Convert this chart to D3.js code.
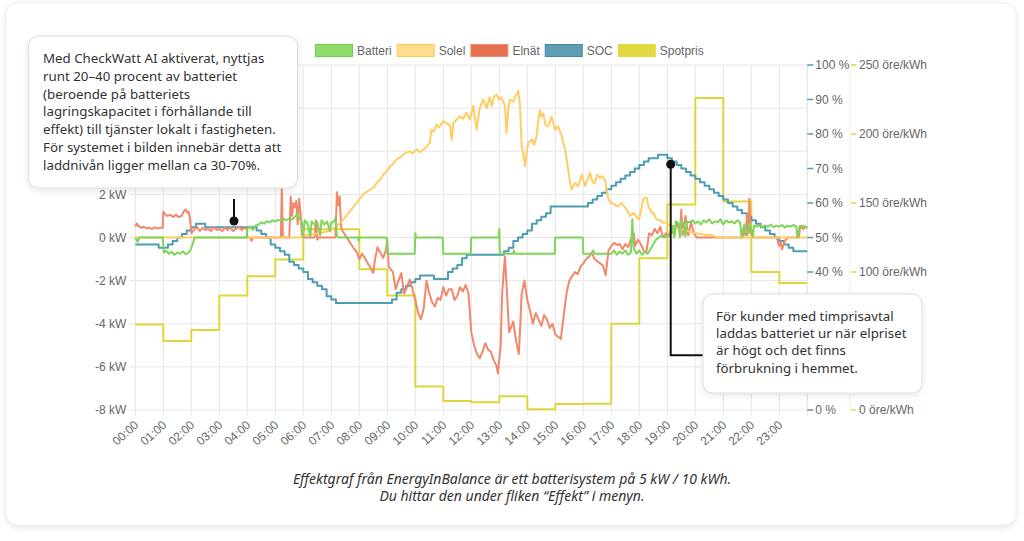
<!DOCTYPE html>
<html>
<head>
<meta charset="utf-8">
<script src="https://cdn.jsdelivr.net/npm/d3@7"></script>
<style>
  html, body { margin: 0; padding: 0; background: #fff; }
  svg { display: block; }
</style>
</head>
<body>
<div id="chart"></div>
<script>
'use strict';

// Tick labels and series
const hourLabels = ["00:00","01:00","02:00","03:00","04:00","05:00","06:00","07:00","08:00","09:00","10:00","11:00",
  "12:00","13:00","14:00","15:00","16:00","17:00","18:00","19:00","20:00","21:00","22:00","23:00"];
const kwTicks = [-8, -6, -4, -2, 0, 2, 4, 6, 8];
const socTicks = [0, 10, 20, 30, 40, 50, 60, 70, 80, 90, 100];
const spotTicks = [0, 50, 100, 150, 200, 250];
// labels left visible next to the note boxes
const kwLabelTicks = [-8, -6, -4, -2, 0, 2];
const socLabelTicks = [0, 40, 50, 60, 70, 80, 90, 100];
const spotLabelTicks = [0, 100, 150, 200, 250];
const legendNames = ["Batteri", "Solel", "Elnät", "SOC", "Spotpris"];

// Spotpris, öre/kWh, one value per hour
const spotPrices = [62, 50, 58, 83, 97, 109, 131, 131, 102, 83, 17, 6.5, 5.6, 10, 0.5, 4.3, 4.5, 62.5, 110, 149, 226, 151, 100, 92];

// SOC in %, one value per 10 minutes from 00:00
const socPercent = [
  48, 48, 48, 48, 48, 47, 47, 48, 49, 50, 51, 52,
  53, 54, 54, 53, 53, 53, 53, 53, 53, 53, 53, 53,
  53, 53, 52, 51, 50, 48, 47, 46, 45, 43, 42, 41,
  40, 38, 37, 36, 35, 33, 32, 31, 31, 31, 31, 31,
  31, 31, 31, 31, 31, 31, 31, 32, 34, 35, 36, 37,
  38, 39, 39, 39, 38, 38, 38, 40, 41, 42, 44, 45,
  45, 45, 45, 45, 45, 45, 45, 46, 47, 49, 50, 51,
  52, 54, 55, 56, 57, 59, 59, 59, 59, 59, 59, 59,
  59, 60, 61, 62, 63, 64, 65, 66, 67, 68, 69, 70,
  71, 72, 73, 73, 74, 74, 73, 72, 71, 70, 69, 68,
  67, 66, 65, 64, 63, 62, 61, 60, 59, 58, 57, 56,
  55, 54, 53, 52, 51, 50, 49, 48, 47, 46, 46, 46, 46
];

// [hour, kW]
const batteriKw = [
  [0,0],[0.08,-0.2],[0.15,0],[0.98,0],[1.02,-0.7],[1.1,-0.62],[1.2,-0.75],[1.3,-0.66],[1.4,-0.8],[1.5,-0.7],
  [1.6,-0.76],[1.7,-0.64],[1.8,-0.78],[1.9,-0.7],[1.97,-0.58],[2.05,-0.3],[2.12,0],[3.98,0],[4.0,0.4],[4.1,0.5],
  [4.2,0.35],[4.3,0.55],[4.4,0.6],[4.5,0.7],[4.6,0.64],[4.7,0.76],[4.8,0.7],[4.9,0.8],[5.0,0.74],[5.1,0.82],
  [5.2,0.77],[5.3,0.86],[5.4,0.8],[5.5,0.88],[5.6,0.84],[5.7,0.95],[5.8,1.15],[5.85,0.9],[5.95,0.7],[6.0,0.05],
  [6.05,0.8],[6.15,0.65],[6.25,0.05],[6.3,0.75],[6.4,0.6],[6.5,0.72],[6.6,0.1],[6.65,0.8],[6.75,0.6],[6.85,0.75],
  [6.95,0.3],[7.0,0.7],[7.1,0.75],[7.15,0.9],[7.2,0.1],[7.25,0],[7.95,0],[7.97,-0.15],[8.0,0],[8.98,0],
  [9.0,-0.75],[9.98,-0.75],[10.0,0.2],[10.03,0],[10.98,0],[11.0,-0.75],[11.98,-0.75],[12.0,0],[12.98,0],[13.0,0.4],
  [13.02,-0.75],[13.5,-0.75],[13.52,-0.6],[13.55,-0.75],[14.98,-0.75],[15.0,0],[15.98,0],[16.0,-0.75],[16.3,-0.75],[16.35,-0.6],
  [16.4,-0.75],[17.0,-0.75],[17.1,-0.6],[17.2,-0.8],[17.3,-0.65],[17.4,-0.75],[17.5,-0.6],[17.6,-0.8],[17.7,-0.7],[17.75,0.85],
  [17.8,-0.5],[17.9,-0.75],[18.0,-0.6],[18.1,-0.8],[18.2,-0.65],[18.3,-0.75],[18.4,-0.55],[18.5,-0.3],[18.6,-0.1],[18.7,0],
  [18.8,0.1],[18.9,0],[19.0,0.05],[19.1,0.15],[19.2,0.55],[19.25,0],[19.3,0.75],[19.4,0.65],[19.45,0],[19.5,0.8],
  [19.6,0.6],[19.65,0.05],[19.7,0.75],[19.8,0.7],[19.9,0.8],[20.0,0.65],[20.1,0.75],[20.2,0.6],[20.3,0.8],[20.4,0.7],
  [20.5,0.85],[20.6,0.65],[20.7,0.75],[20.8,0.7],[20.9,0.85],[21.0,0.6],[21.1,0.8],[21.2,0.7],[21.3,0.75],[21.4,0.65],
  [21.5,0.8],[21.6,0.7],[21.65,0.05],[21.75,0.6],[21.85,0.1],[21.95,0.65],[22.05,0.05],[22.1,0.55],[22.2,0.5],[22.3,0.58],
  [22.4,0.48],[22.5,0.56],[22.6,0.5],[22.7,0.6],[22.8,0.48],[22.9,0.55],[23.0,0.5],[23.1,0.58],[23.2,0.47],[23.3,0.55],
  [23.4,0.5],[23.5,0.58],[23.6,0.52],[23.65,0],[23.72,0.5],[23.85,0.55],[24,0.45]
];

const solelKw = [
  [0,0],[5.9,0],[6.0,0.1],[6.3,0.15],[6.6,0.2],[6.9,0.3],[7.1,0.45],[7.2,0.52],[7.43,0.83],[7.67,1.22],
  [7.9,1.6],[8.14,2.0],[8.3,2.15],[8.38,2.22],[8.5,2.3],[8.62,2.53],[8.75,2.7],[8.86,2.92],[9.0,3.1],[9.1,3.3],
  [9.2,3.4],[9.33,3.62],[9.45,3.7],[9.57,3.85],[9.7,3.95],[9.81,4.0],[9.9,3.9],[10.05,4.1],[10.15,3.95],[10.29,4.08],
  [10.4,4.2],[10.52,4.4],[10.57,5.0],[10.65,4.9],[10.76,5.24],[10.85,5.1],[11.0,5.4],[11.1,5.3],[11.24,5.2],[11.3,4.54],
  [11.36,5.3],[11.5,5.5],[11.6,5.63],[11.7,5.5],[11.83,5.78],[11.95,5.47],[12.07,6.1],[12.19,5.0],[12.3,6.0],[12.43,6.4],
  [12.55,6.0],[12.65,6.5],[12.73,6.1],[12.8,6.5],[12.9,6.63],[13.0,6.4],[13.07,6.5],[13.2,6.1],[13.26,4.85],[13.32,6.0],
  [13.38,6.4],[13.5,6.3],[13.6,6.6],[13.68,6.8],[13.74,6.1],[13.8,4.23],[13.86,3.8],[13.92,3.3],[13.98,4.0],[14.04,4.4],
  [14.17,4.55],[14.25,4.3],[14.33,4.7],[14.4,5.5],[14.45,5.9],[14.5,5.6],[14.57,5.75],[14.65,5.2],[14.75,5.16],[14.87,5.6],
  [14.99,5.0],[15.1,5.16],[15.23,4.7],[15.35,4.08],[15.46,3.15],[15.52,2.6],[15.58,2.23],[15.7,2.53],[15.82,2.38],[15.94,2.92],
  [16.06,2.4],[16.15,2.7],[16.24,3.0],[16.32,2.6],[16.4,2.5],[16.5,2.92],[16.6,2.75],[16.68,2.85],[16.77,2.69],[16.9,1.76],
  [17.0,1.6],[17.1,1.55],[17.19,1.45],[17.3,1.5],[17.37,1.6],[17.45,1.45],[17.55,1.3],[17.67,1.0],[17.79,1.15],[17.9,0.95],
  [17.98,0.83],[18.05,1.2],[18.14,1.76],[18.21,1.84],[18.26,1.84],[18.33,1.45],[18.44,1.15],[18.5,1.15],[18.62,0.83],[18.74,0.8],
  [18.86,0.68],[18.98,0.68],[19.2,0.45],[19.57,0.37],[19.93,0.22],[20.3,0.14],[20.6,0.1],[20.8,0],[24,0]
];

const elnatKw = [
  [0,0.5],[0.05,0.65],[0.1,0.55],[0.2,0.45],[0.3,0.5],[0.4,0.42],[0.5,0.45],[0.6,0.4],[0.7,0.47],[0.8,0.42],
  [0.9,0.45],[0.98,0.45],[1.0,1.2],[1.05,1.1],[1.15,1.0],[1.25,1.05],[1.35,0.95],[1.45,1.05],[1.55,0.95],[1.65,1.0],
  [1.75,1.25],[1.8,1.3],[1.85,1.15],[1.9,1.2],[1.95,0.9],[2.0,0.2],[2.1,0.35],[2.2,0.5],[2.3,0.3],[2.4,0.45],
  [2.5,0.35],[2.6,0.4],[2.7,0.3],[2.8,0.5],[2.9,0.35],[3.0,0.4],[3.1,0.3],[3.2,0.45],[3.3,0.35],[3.4,0.45],
  [3.5,0.3],[3.6,0.4],[3.7,0.5],[3.8,0.35],[3.9,0.45],[3.98,0.4],[4.0,0],[4.1,0],[4.15,-0.15],[4.2,0],
  [5.2,0],[5.23,2.3],[5.27,0.1],[5.3,0],[5.5,0],[5.55,1.9],[5.6,1.0],[5.65,1.6],[5.7,1.4],[5.75,1.7],
  [5.8,0.6],[5.85,1.8],[5.9,1.2],[5.95,0.1],[6.0,0],[6.4,0],[6.45,0.8],[6.5,-0.1],[6.55,0],[7.15,0],
  [7.2,2.1],[7.25,1.5],[7.3,1.9],[7.35,0.5],[7.4,0.3],[7.5,0.1],[7.6,-0.1],[7.7,-0.3],[7.8,-0.5],[7.9,-0.65],
  [8.0,-1.0],[8.1,-0.75],[8.2,-0.95],[8.3,-1.2],[8.4,-1.4],[8.5,-1.65],[8.55,-1.1],[8.65,-0.45],[8.75,-0.7],[8.85,-0.95],
  [8.95,-0.6],[9.0,-0.1],[9.05,-1.35],[9.2,-1.6],[9.3,-2.4],[9.4,-2.0],[9.5,-1.65],[9.6,-2.6],[9.7,-2.3],[9.8,-1.95],
  [9.9,-2.4],[10.0,-2.9],[10.1,-3.5],[10.2,-3.8],[10.3,-3.3],[10.4,-2.0],[10.5,-2.6],[10.6,-3.0],[10.7,-3.2],[10.8,-2.8],
  [10.9,-2.9],[11.0,-2.3],[11.1,-2.7],[11.2,-2.4],[11.3,-2.4],[11.4,-2.9],[11.5,-2.7],[11.6,-2.3],[11.7,-2.5],[11.8,-2.2],
  [11.9,-2.6],[12.0,-4.4],[12.1,-5.0],[12.2,-5.4],[12.3,-5.6],[12.4,-5.3],[12.5,-4.9],[12.6,-5.2],[12.7,-5.3],[12.8,-5.7],
  [12.9,-5.95],[12.95,-6.3],[13.05,-5.0],[13.1,-2.6],[13.2,-0.9],[13.25,-2.0],[13.35,-4.4],[13.5,-3.9],[13.6,-4.8],[13.7,-5.4],
  [13.8,-2.6],[13.9,-2.0],[14.0,-2.9],[14.1,-3.4],[14.2,-4.0],[14.3,-3.5],[14.4,-3.8],[14.5,-4.1],[14.6,-3.6],[14.7,-3.8],
  [14.8,-4.2],[14.9,-4.0],[15.0,-4.5],[15.1,-4.6],[15.2,-4.7],[15.3,-3.6],[15.4,-2.6],[15.5,-2.0],[15.6,-1.8],[15.7,-1.6],
  [15.8,-1.7],[15.9,-1.35],[16.0,-1.2],[16.1,-1.0],[16.2,-0.9],[16.3,-0.7],[16.4,-1.0],[16.5,-1.1],[16.6,-1.2],[16.7,-1.3],
  [16.8,-1.75],[16.9,-0.6],[17.0,-0.4],[17.1,-0.25],[17.2,-0.35],[17.3,-0.3],[17.4,-0.55],[17.5,-0.3],[17.6,-0.45],[17.7,-0.1],
  [17.8,0.2],[17.85,-0.4],[17.95,-0.1],[18.05,-0.3],[18.15,-0.6],[18.25,-0.7],[18.35,0.2],[18.45,0.1],[18.55,0.4],[18.65,0.2],
  [18.75,0.5],[18.85,0.0],[18.95,0.2],[19.05,0.05],[19.15,0.4],[19.25,0.1],[19.35,0.7],[19.45,0.2],[19.5,1.3],[19.55,0.1],
  [19.65,1.0],[19.75,0.1],[19.85,0.7],[19.95,0.2],[20.05,0],[21.7,0],[21.75,0.5],[21.8,0.1],[21.85,1.1],[21.9,0.2],
  [21.93,1.8],[21.97,0.3],[22.05,0],[22.9,0],[23.0,-0.4],[23.05,-0.2],[23.1,-0.55],[23.2,-0.15],[23.3,0],[23.7,0],
  [23.75,0.55],[23.85,0.4],[23.95,0.5],[24,0.45]
];

const noteLeft = [
  "Med CheckWatt AI aktiverat, nyttjas",
  "runt 20–40 procent av batteriet",
  "(beroende på batteriets",
  "lagringskapacitet i förhållande till",
  "effekt) till tjänster lokalt i fastigheten.",
  "För systemet i bilden innebär detta att",
  "laddnivån ligger mellan ca 30-70%."
];
const noteRight = [
  "För kunder med timprisavtal",
  "laddas batteriet ur när elpriset",
  "är högt och det finns",
  "förbrukning i hemmet."
];
const captionLines = [
  "Effektgraf från EnergyInBalance är ett batterisystem på 5 kW / 10 kWh.",
  "Du hittar den under fliken “Effekt” i menyn."
];

// Styling
const colors = {
  batteri: '#7fd45a', solel: '#ffcd63', elnat: '#f2876b', soc: '#4f9db2', spot: '#e0d63a'
};
const legendFill = ['#8edc6c', '#ffdd8a', '#e6714f', '#5d9fb1', '#e1d941'];
const legendStroke = ['#6ccf45', '#ffc94f', '#f08c6f', '#3f8ba0', '#e1d83c'];
const axisFont = '"Liberation Sans", Arial, sans-serif';
const noteFont = '"Noto Sans", sans-serif';
const gridColor = '#e6e6e6';
const labelColor = '#666';

const W = 1024, H = 541;
const plot = {left: 135.3, right: 807.3, top: 65, bottom: 410};

const svg = d3.select('#chart').append('svg')
  .attr('width', W).attr('height', H);

const defs = svg.append('defs');
const shadow = defs.append('filter').attr('id', 'shadow')
  .attr('x', '-10%').attr('y', '-10%').attr('width', '120%').attr('height', '130%');
shadow.append('feDropShadow').attr('dx', 0).attr('dy', 2).attr('stdDeviation', 3)
  .attr('flood-color', '#000').attr('flood-opacity', 0.10);

// Card
svg.append('rect')
  .attr('x', 6).attr('y', 3).attr('width', 1010).attr('height', 522).attr('rx', 12)
  .attr('fill', '#fff').attr('stroke', '#efefef').attr('filter', 'url(#shadow)');

// Scales
const x = d3.scaleLinear().domain([0, 24]).range([plot.left, plot.right]);
const yKw = d3.scaleLinear().domain([-8, 8]).range([plot.bottom, plot.top]);
const ySoc = d3.scaleLinear().domain([0, 100]).range([plot.bottom, plot.top]);
const ySpot = d3.scaleLinear().domain([0, 250]).range([plot.bottom, plot.top]);

const hours = d3.range(0, 25);

// Grid
const grid = svg.append('g');
grid.selectAll('line.v').data(hours).join('line')
  .attr('x1', d => x(d)).attr('x2', d => x(d))
  .attr('y1', plot.top).attr('y2', plot.bottom + 6)
  .attr('stroke', gridColor).attr('stroke-width', 1);
grid.selectAll('line.h').data(kwTicks).join('line')
  .attr('x1', plot.left - 6).attr('x2', plot.right)
  .attr('y1', d => yKw(d)).attr('y2', d => yKw(d))
  .attr('stroke', gridColor).attr('stroke-width', 1);

// Left axis labels
svg.append('g').selectAll('text').data(kwLabelTicks).join('text')
  .attr('x', plot.left - 9).attr('y', d => yKw(d)).attr('dy', '0.35em')
  .attr('text-anchor', 'end')
  .attr('font-family', axisFont).attr('font-size', 12).attr('fill', labelColor)
  .text(d => `${d} kW`);

// Bottom labels
svg.append('g').selectAll('text').data(hourLabels).join('text')
  .attr('text-anchor', 'end')
  .attr('transform', (d, i) => `translate(${x(i) + 4},${plot.bottom + 16}) rotate(-42)`)
  .attr('font-family', axisFont).attr('font-size', 12).attr('fill', labelColor)
  .text(d => d);

// Right axes
const socX = plot.right, spotX = 850;
svg.append('line').attr('x1', socX).attr('x2', socX).attr('y1', plot.top).attr('y2', plot.bottom)
  .attr('stroke', gridColor);
svg.append('line').attr('x1', spotX).attr('x2', spotX).attr('y1', plot.top).attr('y2', plot.bottom)
  .attr('stroke', '#eeeeee');

svg.append('g').selectAll('line').data(socTicks).join('line')
  .attr('x1', socX).attr('x2', socX + 6).attr('y1', d => ySoc(d)).attr('y2', d => ySoc(d))
  .attr('stroke', colors.soc).attr('stroke-width', 1.5);
svg.append('g').selectAll('text').data(socLabelTicks).join('text')
  .attr('x', socX + 8).attr('y', d => ySoc(d)).attr('dy', '0.35em')
  .attr('font-family', axisFont).attr('font-size', 12).attr('fill', labelColor)
  .text(d => `${d} %`);

svg.append('g').selectAll('line').data(spotTicks).join('line')
  .attr('x1', spotX + 1).attr('x2', spotX + 6).attr('y1', d => ySpot(d)).attr('y2', d => ySpot(d))
  .attr('stroke', colors.spot).attr('stroke-width', 1.5);
svg.append('g').selectAll('text').data(spotLabelTicks).join('text')
  .attr('x', spotX + 9).attr('y', d => ySpot(d)).attr('dy', '0.35em')
  .attr('font-family', axisFont).attr('font-size', 12).attr('fill', labelColor)
  .text(d => `${d} öre/kWh`);

// Lines, drawn bottom to top
const spotData = spotPrices.map((v, i) => [i, v]).concat([[24, spotPrices[spotPrices.length - 1]]]);
const socData = socPercent.map((v, i) => [i / 6, v]);

const lines = svg.append('g').attr('fill', 'none').attr('stroke-linejoin', 'round');

lines.append('path').datum(spotData)
  .attr('d', d3.line().x(d => x(d[0])).y(d => ySpot(d[1])).curve(d3.curveStepAfter))
  .attr('stroke', colors.spot).attr('stroke-width', 2);

lines.append('path').datum(socData)
  .attr('d', d3.line().x(d => x(d[0])).y(d => ySoc(d[1])).curve(d3.curveStepAfter))
  .attr('stroke', colors.soc).attr('stroke-width', 2);

const kwLine = d3.line().x(d => x(d[0])).y(d => yKw(d[1]));
lines.append('path').datum(elnatKw).attr('d', kwLine)
  .attr('stroke', colors.elnat).attr('stroke-width', 2);
lines.append('path').datum(solelKw).attr('d', kwLine)
  .attr('stroke', colors.solel).attr('stroke-width', 2);
lines.append('path').datum(batteriKw).attr('d', kwLine)
  .attr('stroke', colors.batteri).attr('stroke-width', 2);

// Legend
const legend = svg.append('g').attr('font-family', axisFont).attr('font-size', 12);
let lx = 315;
legendNames.forEach((name, i) => {
  legend.append('rect')
    .attr('x', lx + 0.5).attr('y', 44.5).attr('width', 37).attr('height', 12)
    .attr('fill', legendFill[i]).attr('stroke', legendStroke[i]).attr('stroke-width', 1);
  const t = legend.append('text')
    .attr('x', lx + 42).attr('y', 50.5).attr('dy', '0.35em')
    .attr('fill', labelColor).text(name);
  lx += 42 + t.node().getComputedTextLength() + 5;
});

// Pointers
const pointers = svg.append('g').attr('stroke', '#111').attr('stroke-width', 2).attr('fill', 'none');
pointers.append('line').attr('x1', 234).attr('x2', 234).attr('y1', 199).attr('y2', 221);
svg.append('circle').attr('cx', 234).attr('cy', 221).attr('r', 4.5).attr('fill', '#111');
pointers.append('path').attr('d', 'M670.7,164.3V355.3H703');
svg.append('circle').attr('cx', 670.7).attr('cy', 164.3).attr('r', 4.5).attr('fill', '#111');

// Notes
function note(bx, by, bw, bh, lines, tx, ty, lh) {
  const g = svg.append('g');
  g.append('rect').attr('x', bx).attr('y', by).attr('width', bw).attr('height', bh).attr('rx', 10)
    .attr('fill', '#fff').attr('stroke', '#dddddd').attr('filter', 'url(#shadow)');
  g.selectAll('text').data(lines).join('text')
    .attr('x', tx).attr('y', (d, i) => ty + i * lh)
    .attr('font-family', noteFont).attr('font-size', 13.3).attr('fill', '#333')
    .text(d => d);
}
note(28.5, 36, 269, 152, noteLeft, 43, 63.3, 17.7);
note(703, 294, 219, 99, noteRight, 716, 320.5, 17.4);

// Caption
svg.append('g').selectAll('text').data(captionLines).join('text')
  .attr('x', 512).attr('y', (d, i) => 484 + i * 17)
  .attr('text-anchor', 'middle')
  .attr('font-family', noteFont).attr('font-style', 'italic').attr('font-size', 14).attr('fill', '#333')
  .text(d => d);
</script>
</body>
</html>
